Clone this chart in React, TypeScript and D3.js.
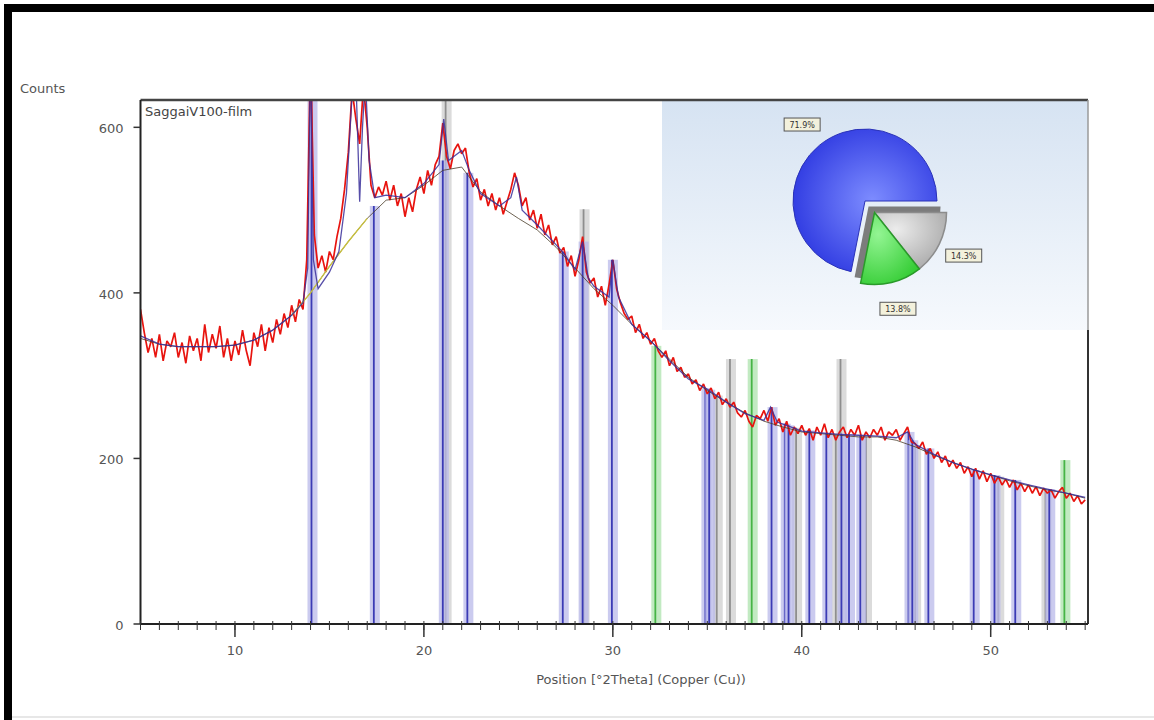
import React from 'react';
import * as d3 from 'd3';

const W = 1154;
const H = 720;

// scan: counts at 0.2° steps from 5.0 to 55.0 °2Theta
const scanStart = 5.0;
const scanStep = 0.2;
const observedCounts = [
  380, 352, 328, 345, 322, 350, 318, 342, 335, 352,
  322, 340, 315, 348, 330, 345, 318, 362, 328, 350,
  333, 360, 322, 345, 318, 342, 325, 355, 330, 312,
  352, 335, 362, 330, 358, 340, 368, 350, 375, 358,
  385, 365, 392, 380, 440, 690, 470, 430, 445, 425,
  450, 440, 468, 490, 525, 570, 645, 610, 580, 650,
  600, 530, 515, 528, 518, 535, 512, 530, 505, 520,
  492, 515, 498, 525, 540, 520, 548, 530, 555, 565,
  605, 565, 550, 572, 580, 568, 575, 545, 528, 538,
  512, 525, 505, 520, 500, 515, 495, 510, 525, 545,
  530, 505, 515, 488, 500, 478, 495, 470, 482, 458,
  468, 448, 455, 432, 445, 420, 440, 468, 425, 412,
  418, 395, 408, 385, 410, 440, 405, 388, 375, 368,
  372, 352, 362, 345, 352, 338, 345, 330, 322, 330,
  312, 322, 305, 310, 298, 302, 290, 295, 282, 290,
  278, 285, 272, 280, 265, 272, 262, 268, 255, 250,
  258, 245, 238, 252, 248, 258, 245, 262, 240, 248,
  232, 245, 228, 238, 230, 240, 228, 236, 222, 238,
  228, 242, 225, 235, 222, 232, 238, 225, 235, 228,
  240, 222, 232, 225, 235, 228, 238, 222, 232, 228,
  235, 222, 230, 238, 220, 218, 212, 220, 205, 212,
  200, 208, 195, 203, 190, 198, 188, 195, 182, 190,
  178, 188, 175, 185, 172, 182, 170, 178, 168, 175,
  165, 174, 162, 170, 160, 168, 158, 166, 155, 164,
  158, 162, 152, 160, 165, 152, 158, 148, 155, 145,
  150,
];

// calculated profile [°2Theta, counts]
const calcProfile: [number, number][] = [
  [5, 348], [6, 338], [7, 335], [8, 335], [9, 335], [10, 337], [11, 343], [12, 355],
  [13, 373], [13.6, 388], [13.85, 430], [14.0, 700], [14.15, 440], [14.4, 405],
  [15, 425], [15.5, 450], [15.9, 520], [16.2, 640], [16.4, 660], [16.6, 510],
  [16.75, 600], [16.9, 660], [17.1, 560], [17.4, 515], [18, 518], [19, 515],
  [20, 532], [20.8, 555], [21.05, 610], [21.3, 560], [22, 572], [22.4, 548],
  [23, 520], [24, 505], [24.6, 515], [24.9, 540], [25.2, 500], [26, 482],
  [27, 458], [27.4, 448], [28, 428], [28.4, 462], [28.7, 418], [29, 408],
  [29.8, 395], [30.0, 440], [30.3, 395], [31, 362], [32, 342], [33, 318],
  [34, 296], [34.9, 285], [35.5, 276], [36, 268], [37, 254], [38, 246],
  [38.35, 262], [38.7, 244], [39.2, 240], [40, 233], [41, 231], [42, 229],
  [43, 228], [44, 227], [45, 225], [45.6, 232], [46, 217], [47, 205], [48, 195],
  [49, 187], [50, 180], [51, 174], [52, 168], [53, 163], [54, 158], [55, 153],
];

// background at 1° steps from 5 to 55
const bgCounts = [
  345, 338, 335, 335, 335, 337, 343, 355, 373, 400,
  432, 462, 490, 512, 515, 530, 548, 552, 522, 505,
  490, 476, 455, 430, 405, 385, 362, 342, 320, 298,
  282, 268, 255, 245, 238, 232, 230, 228, 226, 226,
  222, 214, 204, 195, 187, 180, 173, 167, 162, 158,
  152,
];

// reference pattern lines [°2Theta, height]
const bluePeaks: [number, number][] = [
  [14.05, 640], [17.35, 505], [21.0, 560], [22.3, 545], [27.35, 450], [28.4, 462],
  [29.95, 440], [34.9, 285], [35.1, 283], [38.4, 262], [39.1, 242], [39.3, 240],
  [40.4, 234], [41.3, 231], [42.1, 230], [42.5, 229], [43.1, 228], [45.65, 232],
  [45.85, 222], [46.7, 212], [49.1, 186], [50.2, 180], [51.3, 174], [53.1, 163],
];
const greenPeaks: [number, number][] = [[32.25, 336], [37.35, 320], [53.9, 198]];
const grayPeaks: [number, number][] = [
  [21.15, 640], [28.45, 501], [36.2, 320], [42.05, 320],
  [35.5, 276], [39.7, 237], [41.8, 229], [43.4, 226], [46.0, 216], [50.4, 178], [52.9, 162],
];

// phase fractions (%), pie order: gray, green, blue
const phaseShares = [14.3, 13.8, 71.9];
const phaseLabels = ['14.3%', '13.8%', '71.9%'];

const xMajorTicks = [10, 20, 30, 40, 50];
const yTicks = [0, 200, 400, 600];

const FONT = '"DejaVu Sans", "Open Sans", sans-serif';

const App: React.FC = () => {
  const left = 140.5, right = 1088, top = 100, bottom = 624;
  const x = d3.scaleLinear().domain([5, 55.15]).range([left, right]);
  const y = d3.scaleLinear().domain([0, 633]).range([bottom, top]);

  const scan = observedCounts.map((c, i) => [scanStart + i * scanStep, c] as [number, number]);
  const bg = bgCounts.map((c, i) => [5 + i, c] as [number, number]);

  const line = d3.line<[number, number]>().x(d => x(d[0])).y(d => y(d[1]));

  const minorTicks = d3.range(5, 56, 1);

  // pie
  const pieCx = 865, pieCy = 201, pieR = 72;
  const pie = d3.pie<number>().sort(null)
    .startAngle(Math.PI / 2).endAngle(Math.PI / 2 + 2 * Math.PI)(phaseShares);
  const arc = d3.arc<d3.PieArcDatum<number>>().innerRadius(0).outerRadius(pieR);
  const labelArc = d3.arc<d3.PieArcDatum<number>>().innerRadius(99).outerRadius(99);
  const exMid = (pie[0].startAngle + pie[1].endAngle) / 2;
  const exDx = 15 * Math.sin(exMid), exDy = -15 * Math.cos(exMid);
  const edgeArc = d3.arc()({
    innerRadius: 0, outerRadius: pieR,
    startAngle: pie[0].startAngle, endAngle: pie[1].endAngle,
  } as any) as string;
  const fills = ['url(#gGray)', 'url(#gGreen)', 'url(#gBlue)'];
  const strokes = ['#8c8c8c', '#2a9a2a', '#2a32b8'];

  const sticks = (data: [number, number][], stroke: string, band: string, key: string) =>
    data.map(([p, h], i) => (
      <g key={key + i}>
        <rect x={x(p) - 4} y={y(h)} width={10} height={bottom - y(h)} fill={band} opacity={0.75} />
        <line x1={x(p)} x2={x(p)} y1={bottom} y2={y(h)} stroke={stroke} strokeWidth={1.8} />
      </g>
    ));

  return (
    <svg width={W} height={H} style={{ position: 'absolute', left: 0, top: 0 }} fontFamily={FONT}>
      <defs>
        <clipPath id="plotClip">
          <rect x={left} y={top} width={right - left} height={bottom - top} />
        </clipPath>
        <linearGradient id="panelGrad" x1="0" y1="0" x2="0" y2="1">
          <stop offset="0%" stopColor="#d6e3f2" />
          <stop offset="100%" stopColor="#f6f9fd" />
        </linearGradient>
        <radialGradient id="gBlue" cx="0.55" cy="0.5" r="0.6">
          <stop offset="0%" stopColor="#7d8cff" />
          <stop offset="100%" stopColor="#2c37e0" />
        </radialGradient>
        <radialGradient id="gGray" cx="0.3" cy="0.3" r="0.8">
          <stop offset="0%" stopColor="#ececec" />
          <stop offset="100%" stopColor="#a9a9a9" />
        </radialGradient>
        <radialGradient id="gGreen" cx="0.3" cy="0.3" r="0.8">
          <stop offset="0%" stopColor="#93f593" />
          <stop offset="100%" stopColor="#34cc34" />
        </radialGradient>
      </defs>

      <rect width={W} height={H} fill="#ffffff" />
      {/* black frame of the screenshot */}
      <rect x={4} y={4} width={W - 4} height={8} fill="#000" />
      <rect x={4} y={4} width={8} height={H - 4} fill="#000" />
      <line x1={12} x2={W} y1={717} y2={717} stroke="#cfcfcf" />

      {/* inset panel */}
      <rect x={662} y={top} width={right - 662} height={230} fill="url(#panelGrad)" />

      <g clipPath="url(#plotClip)">
        {sticks(grayPeaks, '#8e8e8e', '#cfcfcf', 'gr')}
        {sticks(bluePeaks, '#3b3bb5', '#b9b9ea', 'bl')}
        {sticks(greenPeaks, '#46b446', '#ade3ad', 'gn')}
        <path d={line(scan) ?? ''} fill="none" stroke="#e8140f" strokeWidth={1.7} strokeLinejoin="bevel" />
        <path d={line(bg) ?? ''} fill="none" stroke="#4a3c28" strokeWidth={1} opacity={0.8} />
        <path d={line(bg.filter(d => d[0] >= 13 && d[0] <= 17)) ?? ''} fill="none" stroke="#c8c040" strokeWidth={1.4} />
        <path d={line(calcProfile) ?? ''} fill="none" stroke="#3a2f9a" strokeWidth={1.3} opacity={0.85} />
      </g>

      {/* frame */}
      <line x1={left} x2={right} y1={top} y2={top} stroke="#444" strokeWidth={2.5} />
      <line x1={left} x2={left} y1={top} y2={bottom} stroke="#222" strokeWidth={2} />
      <line x1={right} x2={right} y1={top} y2={330} stroke="#9a9a9a" strokeWidth={1.5} />
      <line x1={right} x2={right} y1={330} y2={bottom} stroke="#333" strokeWidth={2} />
      <line x1={left} x2={right} y1={bottom} y2={bottom} stroke="#222" strokeWidth={2} />

      {/* x axis ticks */}
      {minorTicks.map(t => (
        <line key={'m' + t} x1={x(t)} x2={x(t)} y1={bottom - 3} y2={bottom + 6} stroke="#333" strokeWidth={1} />
      ))}
      {xMajorTicks.map(t => (
        <g key={'x' + t}>
          <line x1={x(t)} x2={x(t)} y1={bottom} y2={bottom + 13} stroke="#333" strokeWidth={1.5} />
          <text x={x(t)} y={bottom + 31} textAnchor="middle" fontSize={13} fill="#555">{t}</text>
        </g>
      ))}
      <text x={641} y={684} textAnchor="middle" fontSize={13} fill="#555">Position [°2Theta] (Copper (Cu))</text>

      {/* y axis */}
      {yTicks.map(t => (
        <g key={'y' + t}>
          <line x1={left - 7} x2={left} y1={y(t)} y2={y(t)} stroke="#333" strokeWidth={1.5} />
          <text x={left - 17} y={y(t) + 6} textAnchor="end" fontSize={13} fill="#555">{t}</text>
        </g>
      ))}
      <text x={20} y={93} fontSize={13} fill="#555">Counts</text>
      <text x={145} y={116} fontSize={13} fill="#444">SaggaiV100-film</text>

      {/* phase pie */}
      <g transform={`translate(${pieCx},${pieCy})`}>
        <path d={edgeArc} transform={`translate(${exDx - 6},${exDy - 6})`} fill="#7c7c7c" />
        <path d={arc(pie[2]) ?? ''} fill={fills[2]} stroke={strokes[2]} strokeWidth={1} />
        {[0, 1].map(i => (
          <path key={'s' + i} d={arc(pie[i]) ?? ''} transform={`translate(${exDx},${exDy})`}
            fill={fills[i]} stroke={strokes[i]} strokeWidth={1.5} />
        ))}
        {pie.map((d, i) => {
          const [cx, cy] = labelArc.centroid(d);
          const ox = i < 2 ? exDx : 0, oy = i < 2 ? exDy : 0;
          return (
            <g key={'l' + i} transform={`translate(${cx + ox},${cy + oy})`}>
              <rect x={-18} y={-6.5} width={36} height={13} fill="#f3f1dc" stroke="#555" strokeWidth={1} />
              <text x={0} y={3.5} textAnchor="middle" fontSize={8} fill="#333">{phaseLabels[i]}</text>
            </g>
          );
        })}
      </g>
    </svg>
  );
};

export default App;
